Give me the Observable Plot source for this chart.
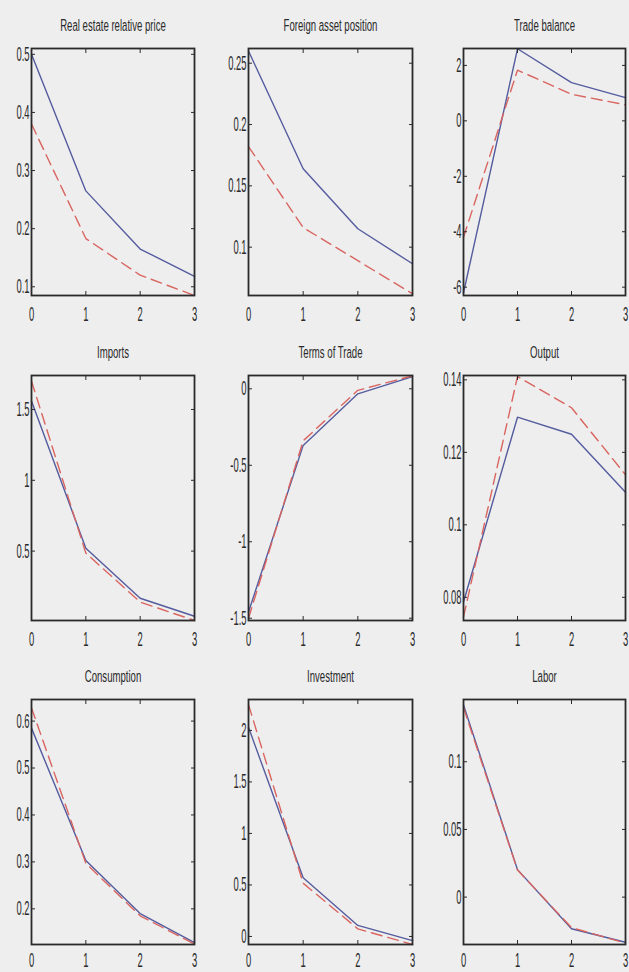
<!DOCTYPE html>
<html><head><meta charset="utf-8">
<script src="https://cdn.jsdelivr.net/npm/d3@7"></script>
<script src="https://cdn.jsdelivr.net/npm/@observablehq/plot@0.6"></script>
<style>
html,body{margin:0;padding:0;background:#eeeeee;}
#fig{position:relative;width:629px;height:972px;overflow:hidden;background:#eeeeee;}
#fig svg{position:absolute;}
</style></head><body><div id="fig"></div>
<script>
// periods (x axis)
const periods = [0, 1, 2, 3];

// panel titles
const titles = ["Real estate relative price", "Foreign asset position", "Trade balance",
                "Imports", "Terms of Trade", "Output",
                "Consumption", "Investment", "Labor"];

// solid (blue) and dashed (red) responses
const realEstateSolid   = [0.50, 0.265, 0.165, 0.118];
const realEstateDashed  = [0.38, 0.183, 0.120, 0.085];
const foreignSolid      = [0.26, 0.164, 0.115, 0.0865];
const foreignDashed     = [0.182, 0.116, 0.089, 0.062];
const tradeSolid        = [-6.2, 2.6, 1.38, 0.84];
const tradeDashed       = [-4.2, 1.83, 0.96, 0.58];
const importsSolid      = [1.56, 0.52, 0.167, 0.04];
const importsDashed     = [1.70, 0.486, 0.14, 0.01];
const totSolid          = [-1.46, -0.37, -0.033, 0.08];
const totDashed         = [-1.50, -0.34, -0.01, 0.085];
const outputSolid       = [0.0787, 0.1297, 0.125, 0.109];
const outputDashed      = [0.0746, 0.1409, 0.1323, 0.1138];
const consumptionSolid  = [0.585, 0.303, 0.19, 0.128];
const consumptionDashed = [0.628, 0.297, 0.185, 0.125];
const investmentSolid   = [2.03, 0.57, 0.107, -0.04];
const investmentDashed  = [2.25, 0.517, 0.074, -0.078];
const laborSolid        = [0.142, 0.0203, -0.0234, -0.0333];
const laborDashed       = [0.140, 0.020, -0.0225, -0.034];

// y domains and y tick values
const yDomains = [[0.085, 0.51], [0.0606, 0.262], [-6.3, 2.61],
                  [0.01, 1.74], [-1.515, 0.087], [0.0736, 0.1412],
                  [0.124, 0.646], [-0.078, 2.3], [-0.035, 0.146]];
const yTicks = [[0.1, 0.2, 0.3, 0.4, 0.5], [0.1, 0.15, 0.2, 0.25], [-6, -4, -2, 0, 2],
                [0.5, 1, 1.5], [-1.5, -1, -0.5, 0], [0.08, 0.1, 0.12, 0.14],
                [0.2, 0.3, 0.4, 0.5, 0.6], [0, 0.5, 1, 1.5, 2], [0, 0.05, 0.1]];

const solids = [realEstateSolid, foreignSolid, tradeSolid, importsSolid, totSolid, outputSolid,
                consumptionSolid, investmentSolid, laborSolid];
const dasheds = [realEstateDashed, foreignDashed, tradeDashed, importsDashed, totDashed, outputDashed,
                 consumptionDashed, investmentDashed, laborDashed];

// layout (frame edges in page pixels)
const colX = [[31, 194], [248, 412], [463, 625]];
const rowY = [[48, 295], [375, 620], [699, 944]];
const rowPad = [15, 15, 12];

const BLUE = "#545c9e";
const RED = "#d96560";
const FONT = "'Liberation Sans', Arial, sans-serif";

const fig = document.getElementById("fig");
const ml = 34, mr = 3, mt = 44, mb = 26;

titles.forEach((title, k) => {
  const row = Math.floor(k / 3);
  const [x0, x1] = colX[k % 3];
  const [y0, y1] = rowY[row];
  const solid = periods.map((t, i) => ({t, v: solids[k][i]}));
  const dashed = periods.map((t, i) => ({t, v: dasheds[k][i]}));
  const chart = Plot.plot({
    width: x1 - x0 + ml + mr,
    height: y1 - y0 + mt + mb,
    marginLeft: ml, marginRight: mr, marginTop: mt, marginBottom: mb,
    style: {background: "transparent", fontFamily: FONT, overflow: "visible", color: "#2a2a2a"},
    x: {domain: [0, 3]},
    y: {domain: yDomains[k]},
    marks: [
      Plot.line(solid, {x: "t", y: "v", stroke: BLUE, strokeWidth: 1.4}),
      Plot.line(dashed, {x: "t", y: "v", stroke: RED, strokeWidth: 1.4, strokeDasharray: "11,6"}),
      Plot.frame({stroke: "#2a2a2a", strokeWidth: 1.8}),
      Plot.axisX({anchor: "bottom", ticks: periods, tickSize: -4, tickPadding: rowPad[row], tickFormat: d => String(d), label: null, fontSize: 20}),
      Plot.axisX({anchor: "top", ticks: periods, tickSize: -4, tickFormat: () => "", label: null}),
      Plot.axisY({anchor: "left", ticks: yTicks[k], tickSize: -4, tickPadding: 6, tickFormat: d => String(d), label: null, fontSize: 20}),
      Plot.axisY({anchor: "right", ticks: yTicks[k], tickSize: -4, tickFormat: () => "", label: null}),
      Plot.text([title], {frameAnchor: "top", dy: -23, text: d => d, fontSize: 17, lineAnchor: "middle", fill: "#2a2a2a"})
    ]
  });
  chart.style.left = (x0 - ml) + "px";
  chart.style.top = (y0 - mt) + "px";
  fig.appendChild(chart);
  // condense text horizontally about its anchor point
  chart.querySelectorAll("text").forEach(el => {
    const s = el.textContent === title ? 0.565 : 0.47;
    const x = +(el.getAttribute("x") || 0);
    const tr = el.getAttribute("transform") || "";
    el.setAttribute("transform", `${tr} translate(${x},0) scale(${s},1) translate(${-x},0)`);
  });
});
</script></body></html>
